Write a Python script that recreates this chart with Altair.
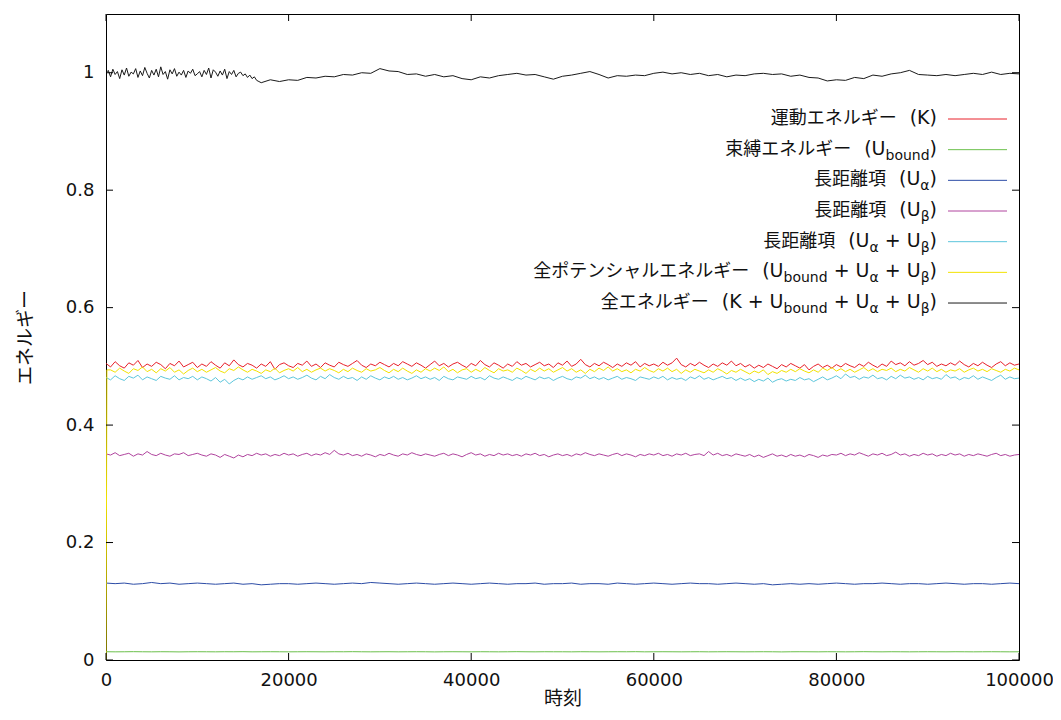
import altair as alt
import pandas as pd

# ---------------- data ----------------
DENSE_STEP = 500   # red / yellow / cyan / magenta: t = 0, 500, ..., 100000
TIME_STEP = 1000   # blue / green: t = 0, 1000, ..., 100000

KINETIC = [  # 運動エネルギー (K)
    0.505, 0.499, 0.508, 0.501, 0.497, 0.506, 0.502, 0.510, 0.498, 0.504,
    0.500, 0.507, 0.503, 0.496, 0.505, 0.501, 0.509, 0.499, 0.503, 0.507,
    0.498, 0.504, 0.500, 0.508, 0.502, 0.497, 0.506, 0.501, 0.511, 0.503,
    0.499, 0.505, 0.502, 0.497, 0.504, 0.500, 0.508, 0.495, 0.503, 0.506,
    0.501, 0.498, 0.505, 0.502, 0.509, 0.500, 0.504, 0.498, 0.506, 0.502,
    0.499, 0.507, 0.503, 0.500, 0.505, 0.510, 0.502, 0.498, 0.504, 0.501,
    0.507, 0.503, 0.499, 0.505, 0.501, 0.508, 0.504, 0.500, 0.506, 0.502,
    0.497, 0.503, 0.509, 0.501, 0.505, 0.499, 0.504, 0.507, 0.502, 0.498,
    0.505, 0.501, 0.510, 0.503, 0.499, 0.506, 0.502, 0.497, 0.504, 0.500,
    0.508, 0.502, 0.505, 0.499, 0.503, 0.507, 0.501, 0.504, 0.498, 0.506,
    0.502, 0.509, 0.500, 0.504, 0.512, 0.503, 0.499, 0.505, 0.501, 0.507,
    0.503, 0.498, 0.504, 0.500, 0.506, 0.502, 0.508, 0.499, 0.505, 0.501,
    0.504, 0.500, 0.507, 0.502, 0.506, 0.514, 0.503, 0.499, 0.505, 0.501,
    0.507, 0.502, 0.498, 0.504, 0.500, 0.506, 0.502, 0.509, 0.501, 0.505,
    0.499, 0.503, 0.497, 0.502, 0.498, 0.504, 0.500, 0.496, 0.503, 0.499,
    0.505, 0.501, 0.497, 0.503, 0.494, 0.500, 0.504, 0.498, 0.502, 0.497,
    0.503, 0.499, 0.505, 0.501, 0.498, 0.504, 0.500, 0.507, 0.502, 0.498,
    0.504, 0.500, 0.509, 0.503, 0.506, 0.501, 0.508, 0.502, 0.505, 0.510,
    0.503, 0.507, 0.500, 0.504, 0.501, 0.506, 0.502, 0.509, 0.503, 0.499,
    0.505, 0.501, 0.507, 0.502, 0.498, 0.504, 0.508, 0.501, 0.506, 0.502,
    0.504,
]

U_BOUND = [  # 束縛エネルギー (step 1000)
    0.0141, 0.0139, 0.0140, 0.0142, 0.0140, 0.0139, 0.0141, 0.0140, 0.0138, 0.0140,
    0.0141, 0.0140, 0.0139, 0.0141, 0.0140, 0.0142, 0.0139, 0.0140, 0.0141, 0.0140,
    0.0139, 0.0140, 0.0141, 0.0140, 0.0139, 0.0141, 0.0140, 0.0142, 0.0140, 0.0139,
    0.0140, 0.0141, 0.0139, 0.0140, 0.0141, 0.0140, 0.0138, 0.0140, 0.0141, 0.0140,
    0.0139, 0.0141, 0.0140, 0.0139, 0.0140, 0.0142, 0.0140, 0.0139, 0.0141, 0.0140,
    0.0140, 0.0139, 0.0141, 0.0140, 0.0139, 0.0140, 0.0141, 0.0140, 0.0142, 0.0139,
    0.0140, 0.0141, 0.0140, 0.0139, 0.0140, 0.0141, 0.0139, 0.0140, 0.0141, 0.0140,
    0.0139, 0.0140, 0.0141, 0.0140, 0.0138, 0.0140, 0.0141, 0.0140, 0.0139, 0.0141,
    0.0140, 0.0139, 0.0140, 0.0142, 0.0140, 0.0139, 0.0141, 0.0140, 0.0139, 0.0140,
    0.0141, 0.0140, 0.0139, 0.0141, 0.0140, 0.0139, 0.0140, 0.0141, 0.0140, 0.0139,
    0.0140,
]

U_ALPHA = [  # 長距離項 (Uα) (step 1000)
    0.131, 0.130, 0.131, 0.129, 0.130, 0.132, 0.130, 0.131, 0.129, 0.130,
    0.131, 0.130, 0.129, 0.130, 0.131, 0.129, 0.130, 0.128, 0.129, 0.130,
    0.130, 0.129, 0.130, 0.131, 0.130, 0.129, 0.130, 0.131, 0.130, 0.132,
    0.131, 0.130, 0.129, 0.130, 0.131, 0.130, 0.129, 0.130, 0.131, 0.130,
    0.129, 0.130, 0.131, 0.130, 0.129, 0.130, 0.130, 0.131, 0.129, 0.130,
    0.130, 0.131, 0.129, 0.130, 0.130, 0.129, 0.131, 0.130, 0.129, 0.130,
    0.131, 0.130, 0.129, 0.130, 0.131, 0.130, 0.130, 0.129, 0.130, 0.131,
    0.130, 0.129, 0.130, 0.128, 0.129, 0.130, 0.129, 0.130, 0.129, 0.130,
    0.131, 0.130, 0.129, 0.130, 0.130, 0.131, 0.130, 0.129, 0.130, 0.130,
    0.129, 0.130, 0.131, 0.130, 0.129, 0.130, 0.130, 0.129, 0.130, 0.131,
    0.130,
]

U_BETA = [  # 長距離項 (Uβ)
    0.351, 0.349, 0.353, 0.348, 0.350, 0.352, 0.347, 0.351, 0.349, 0.355,
    0.350, 0.348, 0.352, 0.349, 0.347, 0.351, 0.350, 0.353, 0.348, 0.350,
    0.352, 0.349, 0.347, 0.351, 0.349, 0.345, 0.350, 0.347, 0.344, 0.349,
    0.346, 0.350, 0.348, 0.352, 0.349, 0.351, 0.347, 0.350, 0.348, 0.352,
    0.349, 0.351, 0.347, 0.350, 0.352, 0.348, 0.351, 0.349, 0.353, 0.350,
    0.357, 0.351, 0.349, 0.352, 0.348, 0.350, 0.347, 0.351, 0.349, 0.346,
    0.350, 0.348, 0.352, 0.349, 0.347, 0.351, 0.349, 0.353, 0.350, 0.348,
    0.351, 0.349, 0.347, 0.350, 0.352, 0.348, 0.351, 0.349, 0.346, 0.350,
    0.353, 0.349, 0.351, 0.347, 0.350, 0.348, 0.352, 0.349, 0.351, 0.348,
    0.350, 0.347, 0.351, 0.349, 0.352, 0.348, 0.350, 0.346, 0.349, 0.351,
    0.348, 0.350, 0.347, 0.351, 0.349, 0.353, 0.350, 0.348, 0.351, 0.349,
    0.347, 0.350, 0.352, 0.348, 0.351, 0.349, 0.346, 0.350, 0.348, 0.351,
    0.349, 0.352, 0.348, 0.350, 0.347, 0.351, 0.349, 0.352, 0.348, 0.350,
    0.351, 0.348, 0.355, 0.349, 0.352, 0.348, 0.350, 0.347, 0.351, 0.349,
    0.347, 0.350, 0.346, 0.349, 0.345, 0.348, 0.351, 0.347, 0.349, 0.346,
    0.350, 0.347, 0.349, 0.346, 0.350, 0.348, 0.345, 0.349, 0.347, 0.350,
    0.349, 0.352, 0.348, 0.351, 0.349, 0.353, 0.350, 0.347, 0.351, 0.349,
    0.352, 0.348, 0.350, 0.354, 0.349, 0.351, 0.347, 0.350, 0.348, 0.352,
    0.349, 0.351, 0.347, 0.350, 0.348, 0.352, 0.349, 0.351, 0.347, 0.350,
    0.348, 0.351, 0.349, 0.347, 0.350, 0.352, 0.348, 0.350, 0.347, 0.349,
    0.350,
]

U_AB = [  # 長距離項 (Uα + Uβ)
    0.481, 0.477, 0.484, 0.479, 0.476, 0.483, 0.480, 0.485, 0.477, 0.482,
    0.479, 0.476, 0.483, 0.480, 0.478, 0.484, 0.477, 0.481, 0.479, 0.483,
    0.477, 0.482, 0.479, 0.475, 0.481, 0.473, 0.478, 0.470, 0.476, 0.480,
    0.477, 0.482, 0.478, 0.481, 0.484, 0.479, 0.482, 0.477, 0.480, 0.484,
    0.479, 0.482, 0.478, 0.481, 0.485, 0.480, 0.477, 0.483, 0.479, 0.486,
    0.481, 0.478, 0.483, 0.479, 0.481, 0.476, 0.482, 0.478, 0.484, 0.480,
    0.477, 0.482, 0.479, 0.483, 0.478, 0.481, 0.477, 0.480, 0.484, 0.479,
    0.482, 0.478, 0.481, 0.476, 0.483, 0.479, 0.477, 0.482, 0.480, 0.478,
    0.483, 0.479, 0.481, 0.477, 0.484, 0.480, 0.478, 0.482, 0.479, 0.476,
    0.481, 0.478, 0.483, 0.480, 0.477, 0.482, 0.479, 0.481, 0.476, 0.480,
    0.483, 0.479, 0.477, 0.482, 0.480, 0.485, 0.479, 0.482, 0.478, 0.481,
    0.477, 0.480, 0.483, 0.478, 0.481, 0.479, 0.476, 0.482, 0.480, 0.478,
    0.482, 0.479, 0.483, 0.477, 0.481, 0.478, 0.480, 0.476, 0.482, 0.479,
    0.484, 0.478, 0.481, 0.477, 0.480, 0.483, 0.479, 0.481, 0.476, 0.480,
    0.476, 0.479, 0.474, 0.478, 0.475, 0.480, 0.473, 0.477, 0.479, 0.475,
    0.478, 0.476, 0.481, 0.477, 0.479, 0.474, 0.478, 0.482, 0.477, 0.480,
    0.484, 0.479, 0.487, 0.481, 0.483, 0.478, 0.482, 0.480, 0.485, 0.479,
    0.481, 0.477, 0.483, 0.479, 0.485, 0.480, 0.482, 0.478, 0.481, 0.477,
    0.483, 0.479, 0.481, 0.478, 0.486, 0.480, 0.482, 0.477, 0.481, 0.479,
    0.484, 0.478, 0.482, 0.479, 0.476, 0.481, 0.485, 0.478, 0.482, 0.479,
    0.480,
]

# 全ポテンシャルエネルギー: 0 at t = 0, jumps at once, then t = 500 ... 100000
U_POT_START_T = [0, 100]
U_POT_START_V = [0.0, 0.494]
U_POT = [
    0.494, 0.490, 0.497, 0.492, 0.488, 0.496, 0.493, 0.499, 0.491, 0.495,
    0.489, 0.496, 0.492, 0.498, 0.490, 0.494, 0.487, 0.493, 0.497, 0.491,
    0.495, 0.490, 0.494, 0.498, 0.492, 0.489, 0.496, 0.493, 0.499, 0.494,
    0.490, 0.495, 0.492, 0.488, 0.494, 0.491, 0.497, 0.489, 0.493, 0.496,
    0.492, 0.498, 0.491, 0.495, 0.490, 0.494, 0.497, 0.492, 0.496, 0.493,
    0.489, 0.495, 0.491, 0.497, 0.493, 0.490, 0.496, 0.492, 0.494, 0.498,
    0.493, 0.489, 0.495, 0.491, 0.497, 0.492, 0.488, 0.494, 0.490, 0.496,
    0.492, 0.497, 0.493, 0.499, 0.491, 0.495, 0.489, 0.494, 0.496, 0.490,
    0.495, 0.491, 0.498, 0.493, 0.489, 0.496, 0.492, 0.494, 0.490, 0.497,
    0.493, 0.488, 0.495, 0.491, 0.497, 0.492, 0.496, 0.490, 0.494, 0.498,
    0.492, 0.496, 0.490, 0.494, 0.488, 0.495, 0.491, 0.497, 0.493, 0.499,
    0.492, 0.496, 0.491, 0.494, 0.489, 0.495, 0.492, 0.498, 0.493, 0.490,
    0.496, 0.492, 0.497, 0.491, 0.495, 0.488, 0.494, 0.490, 0.495, 0.492,
    0.489, 0.494, 0.490, 0.496, 0.492, 0.487, 0.493, 0.490, 0.495, 0.491,
    0.487, 0.492, 0.489, 0.494, 0.486, 0.491, 0.488, 0.493, 0.490, 0.495,
    0.491, 0.496, 0.492, 0.489, 0.494, 0.490, 0.497, 0.493, 0.498, 0.492,
    0.496, 0.491, 0.495, 0.490, 0.494, 0.498, 0.492, 0.496, 0.491, 0.495,
    0.493, 0.497, 0.491, 0.495, 0.492, 0.498, 0.494, 0.490, 0.496, 0.492,
    0.497, 0.491, 0.495, 0.490, 0.494, 0.492, 0.496, 0.490, 0.494, 0.497,
    0.492, 0.495, 0.491, 0.496, 0.493, 0.490, 0.495, 0.492, 0.497, 0.494,
]

# 全エネルギー: dense sampling early (t = 0 ... 16750, step 250), then step 1000
TOTAL_EARLY_STEP = 250
TOTAL_EARLY = [
    1.000, 1.004, 0.993, 1.006, 0.997, 1.002, 0.990, 1.005, 0.996, 1.008,
    0.994, 1.001, 0.998, 1.007, 0.992, 1.003, 0.995, 1.009, 0.999, 0.991,
    1.004, 0.996, 1.006, 0.993, 1.010, 0.997, 1.002, 0.989, 1.005, 0.998,
    1.007, 0.994, 1.001, 0.996, 1.004, 0.992, 1.003, 0.999, 1.006, 0.995,
    0.998, 1.002, 0.993, 1.004, 0.997, 1.008, 0.991, 1.005, 1.001, 0.994,
    1.003, 0.996, 1.006, 0.990, 1.002, 0.997, 1.004, 0.993, 0.999, 1.001,
    0.995, 0.998, 0.992, 0.996, 0.990, 0.993, 0.987, 0.985,
]
TOTAL_LATE_START = 17000
TOTAL_LATE = [
    0.983, 0.988, 0.985, 0.988, 0.987, 0.992, 0.991, 0.994, 0.993, 0.997,
    0.996, 1.000, 0.999, 1.007, 1.003, 1.002, 0.997, 0.998, 0.994, 0.997,
    0.993, 0.995, 0.990, 0.988, 0.993, 0.991, 0.995, 0.997, 0.999, 0.996,
    0.997, 0.993, 0.989, 0.994, 0.996, 0.999, 1.002, 0.997, 0.991, 0.995,
    0.994, 0.996, 0.995, 0.999, 1.001, 0.998, 1.000, 0.997, 0.999, 0.995,
    0.997, 0.993, 0.996, 0.995, 0.998, 0.999, 0.997, 0.998, 0.994, 0.996,
    0.992, 0.991, 0.986, 0.988, 0.987, 0.992, 0.990, 0.996, 0.994, 0.998,
    1.000, 1.004, 0.997, 0.996, 0.995, 0.997, 0.995, 0.997, 0.999, 0.997,
    1.001, 0.997, 0.999, 0.998,
]

X_TICKS = [0, 20000, 40000, 60000, 80000, 100000]
Y_TICKS = [0, 0.2, 0.4, 0.6, 0.8, 1.0]

COLORS = {
    "K": "#e8202a",
    "Ub": "#6cc04c",
    "Ua": "#2c4ca6",
    "Ubeta": "#b0449e",
    "Uab": "#5cc6dc",
    "Upot": "#f2e200",
    "E": "#1a1a1a",
}

LEGEND_ROWS = [
    ("K", [("運動エネルギー", "cjk"), (" (K)", "main")]),
    ("Ub", [("束縛エネルギー", "cjk"), (" (U", "main"), ("bound", "sub"), (")", "main")]),
    ("Ua", [("長距離項", "cjk"), (" (U", "main"), ("α", "sub"), (")", "main")]),
    ("Ubeta", [("長距離項", "cjk"), (" (U", "main"), ("β", "sub"), (")", "main")]),
    ("Uab", [("長距離項", "cjk"), (" (U", "main"), ("α", "sub"), (" + U", "main"),
             ("β", "sub"), (")", "main")]),
    ("Upot", [("全ポテンシャルエネルギー", "cjk"), (" (U", "main"), ("bound", "sub"),
              (" + U", "main"), ("α", "sub"), (" + U", "main"), ("β", "sub"), (")", "main")]),
    ("E", [("全エネルギー", "cjk"), (" (K + U", "main"), ("bound", "sub"),
           (" + U", "main"), ("α", "sub"), (" + U", "main"), ("β", "sub"), (")", "main")]),
]

# ---------------- layout / style ----------------
W, H = 913, 646
FONT_LATIN = "DejaVu Sans"
FONT_CJK = "Noto Sans CJK JP"
SIZES = {"cjk": 18, "main": 19, "sub": 14}
SUB_DROP = 5
CJK_GAP = 7
LEG_RIGHT = 831
LEG_ROW0 = 110
LEG_GAP = 30.67
LEG_LINE_X = (842, 901)
TICK_LEN = 7

# approximate DejaVu Sans advance widths (em)
ADV = {" ": 0.318, "(": 0.390, ")": 0.390, "+": 0.838, "K": 0.656, "U": 0.732,
       "b": 0.635, "o": 0.612, "u": 0.634, "n": 0.634, "d": 0.635,
       "α": 0.659, "β": 0.638}


def text_width(s, size):
    return sum(ADV.get(ch, 0.6) for ch in s) * size


def series_frame(values, start, step):
    return pd.DataFrame({"t": [start + i * step for i in range(len(values))], "v": values})


xscale = alt.Scale(domain=[0, 100000], nice=False, zero=False)
yscale = alt.Scale(domain=[0, 1.1], nice=False, zero=False)

x_axis = alt.Axis(values=X_TICKS, format="d", title="時刻", grid=False, ticks=False,
                  domain=False, labelFont=FONT_LATIN, labelFontSize=18,
                  labelColor="#111", labelPadding=11, titleFont=FONT_CJK,
                  titleFontSize=19, titleFontWeight="normal", titleColor="#111",
                  titlePadding=0, labelFlush=False)
y_axis = alt.Axis(values=Y_TICKS, format="~g", title="エネルギー", grid=False, ticks=False,
                  domain=False, labelFont=FONT_LATIN, labelFontSize=18,
                  labelColor="#111", labelPadding=12, titleFont=FONT_CJK,
                  titleFontSize=19, titleFontWeight="normal", titleColor="#111",
                  titlePadding=30, labelFlush=False)


def line_layer(df, key, with_axes=False):
    return alt.Chart(df).mark_line(strokeWidth=1, color=COLORS[key], clip=True).encode(
        x=alt.X("t:Q", scale=xscale, axis=x_axis if with_axes else None),
        y=alt.Y("v:Q", scale=yscale, axis=y_axis if with_axes else None),
    )


pot_df = pd.concat([
    pd.DataFrame({"t": U_POT_START_T, "v": U_POT_START_V}),
    series_frame(U_POT, DENSE_STEP, DENSE_STEP),
], ignore_index=True)
total_df = pd.concat([
    series_frame(TOTAL_EARLY, 0, TOTAL_EARLY_STEP),
    series_frame(TOTAL_LATE, TOTAL_LATE_START, TIME_STEP),
], ignore_index=True)

layers = [
    line_layer(series_frame(KINETIC, 0, DENSE_STEP), "K", with_axes=True),
    line_layer(series_frame(U_BOUND, 0, TIME_STEP), "Ub"),
    line_layer(series_frame(U_ALPHA, 0, TIME_STEP), "Ua"),
    line_layer(series_frame(U_BETA, 0, DENSE_STEP), "Ubeta"),
    line_layer(series_frame(U_AB, 0, DENSE_STEP), "Uab"),
    line_layer(pot_df, "Upot"),
    line_layer(total_df, "E"),
]

# inward ticks on all four borders (gnuplot style)
xt = pd.DataFrame({"t": X_TICKS})
yt = pd.DataFrame({"v": Y_TICKS})
tick_style = dict(color="#000", strokeWidth=1)
layers += [
    alt.Chart(xt).mark_rule(**tick_style).encode(
        x=alt.X("t:Q", scale=xscale, axis=None), y=alt.value(H), y2=alt.value(H - TICK_LEN)),
    alt.Chart(xt).mark_rule(**tick_style).encode(
        x=alt.X("t:Q", scale=xscale, axis=None), y=alt.value(0), y2=alt.value(TICK_LEN)),
    alt.Chart(yt).mark_rule(**tick_style).encode(
        y=alt.Y("v:Q", scale=yscale, axis=None), x=alt.value(0), x2=alt.value(TICK_LEN)),
    alt.Chart(yt).mark_rule(**tick_style).encode(
        y=alt.Y("v:Q", scale=yscale, axis=None), x=alt.value(W), x2=alt.value(W - TICK_LEN)),
]

# manual key (right-aligned labels with subscripts, sample line on the right)
pieces, samples = [], []
for i, (key, segs) in enumerate(LEGEND_ROWS):
    base = LEG_ROW0 + i * LEG_GAP
    x = LEG_RIGHT
    for text, kind in reversed(segs):
        size = SIZES[kind]
        if kind == "cjk":
            x -= CJK_GAP
        pieces.append({"px": x, "py": base + (SUB_DROP if kind == "sub" else 0),
                       "txt": text, "fs": size,
                       "font": FONT_CJK if kind == "cjk" else FONT_LATIN})
        if kind != "cjk":
            x -= text_width(text, size)
    samples.append({"lx": LEG_LINE_X[0], "lx2": LEG_LINE_X[1], "ly": base - 5,
                    "col": COLORS[key]})

pieces_df = pd.DataFrame(pieces)
for fnt in (FONT_CJK, FONT_LATIN):
    layers.append(
        alt.Chart(pieces_df[pieces_df["font"] == fnt]).mark_text(
            align="right", baseline="alphabetic", font=fnt, color="#111").encode(
            x=alt.X("px:Q", scale=None, axis=None),
            y=alt.Y("py:Q", scale=None, axis=None),
            text="txt:N",
            size=alt.Size("fs:Q", scale=None, legend=None),
        )
    )
layers.append(
    alt.Chart(pd.DataFrame(samples)).mark_rule(strokeWidth=1).encode(
        x=alt.X("lx:Q", scale=None, axis=None),
        x2="lx2:Q",
        y=alt.Y("ly:Q", scale=None, axis=None),
        color=alt.Color("col:N", scale=None, legend=None),
    )
)

chart = alt.layer(*layers).resolve_scale(
    x="independent", y="independent", size="independent", color="independent"
).properties(
    width=W, height=H,
    autosize=alt.AutoSizeParams(type="none"),
    padding={"left": 98, "top": 6, "right": 34, "bottom": 52},
    background="white",
).configure_view(stroke="#000", strokeWidth=1)

chart.save("out.html", embed_options={"renderer": "svg", "actions": False})
